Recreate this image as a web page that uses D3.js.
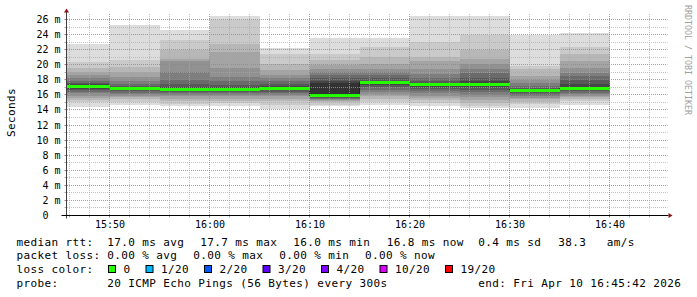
<!DOCTYPE html>
<html>
<head>
<meta charset="utf-8">
<script src="https://cdn.jsdelivr.net/npm/d3@7"></script>
<style>
  body { margin: 0; background: #fff; }
  svg { display: block; font-family: "DejaVu Sans Mono", monospace; }
  text { white-space: pre; }
</style>
</head>
<body>
<div id="chart"></div>
<script>
// step end times (5 minute steps), 20 sorted ping rtts per step (ms), median per step (ms)
const stepEnds = ['15:50', '15:55', '16:00', '16:05', '16:10', '16:15', '16:20', '16:25', '16:30', '16:35', '16:40'];
const pings = [
  [14.4, 15.0, 15.3, 15.6, 15.9, 16.2, 16.4, 16.6, 16.8, 17.0, 17.2, 17.4, 17.6, 17.9, 18.3, 18.7, 19.1, 19.6, 20.3, 22.8],
  [14.6, 15.0, 15.4, 15.7, 15.9, 16.1, 16.3, 16.5, 16.7, 16.8, 16.9, 17.0, 17.2, 17.5, 17.9, 18.4, 19.0, 19.7, 20.6, 25.3],
  [14.5, 14.8, 15.2, 15.5, 15.8, 16.0, 16.2, 16.4, 16.6, 16.7, 16.8, 17.0, 17.4, 18.0, 19.1, 20.5, 20.8, 22.0, 23.3, 24.6],
  [14.5, 14.9, 15.2, 15.5, 15.8, 16.0, 16.2, 16.4, 16.5, 16.6, 16.8, 17.0, 17.3, 17.8, 18.4, 19.6, 21.7, 22.7, 26.0, 26.5],
  [14.1, 14.6, 15.2, 15.5, 15.8, 16.0, 16.2, 16.4, 16.6, 16.7, 17.0, 17.2, 17.5, 17.9, 18.3, 18.7, 19.3, 20.1, 21.4, 22.2],
  [14.5, 14.7, 15.0, 15.2, 15.3, 15.4, 15.5, 15.6, 15.8, 15.9, 17.6, 17.8, 18.3, 18.7, 19.1, 19.4, 20.0, 20.6, 21.4, 23.5],
  [14.6, 15.0, 15.4, 15.8, 16.1, 16.4, 16.7, 17.0, 17.3, 17.6, 17.8, 17.9, 18.2, 18.6, 19.0, 19.5, 20.1, 21.0, 22.4, 23.6],
  [14.5, 14.9, 15.3, 15.6, 15.9, 16.2, 16.5, 16.8, 17.0, 17.3, 17.45, 17.6, 17.9, 18.2, 18.8, 19.5, 20.5, 21.0, 23.0, 26.5],
  [14.2, 14.5, 14.9, 15.3, 15.7, 16.0, 16.4, 16.7, 17.0, 17.3, 17.4, 17.8, 18.3, 18.9, 19.4, 20.1, 20.8, 22.0, 23.9, 26.5],
  [14.3, 14.8, 15.1, 15.4, 15.6, 15.8, 16.0, 16.2, 16.4, 16.5, 16.6, 16.7, 16.9, 17.2, 17.6, 18.0, 18.5, 19.4, 19.8, 24.0],
  [14.7, 15.2, 15.5, 15.7, 15.9, 16.1, 16.3, 16.5, 16.6, 16.7, 16.9, 17.4, 18.0, 18.5, 18.9, 19.6, 20.5, 21.4, 22.4, 24.2]
];
const medians = [17.1, 16.85, 16.75, 16.7, 16.85, 15.95, 17.7, 17.4, 17.35, 16.55, 16.8];

const yTicks = [0, 2, 4, 6, 8, 10, 12, 14, 16, 18, 20, 22, 24, 26];
const rttStats = ['17.0 ms avg', '17.7 ms max', '16.0 ms min', '16.8 ms now', '0.4 ms sd', '38.3', 'am/s'];
const lossStats = ['0.00 % avg', '0.00 % max', '0.00 % min', '0.00 % now'];
const lossLabels = ['0', '1/20', '2/20', '3/20', '4/20', '10/20', '19/20'];
const lossColors = ['#26ff00', '#00b8ff', '#0059ff', '#5e00ff', '#7e00ff', '#dd00ff', '#ff0000'];
const probeText = '20 ICMP Echo Pings (56 Bytes) every 300s';
const endText = 'end: Fri Apr 10 16:45:42 2026';

const W = 697, H = 297;
const t = s => { const p = s.split(':').map(Number); return new Date(Date.UTC(2026, 3, 10, p[0], p[1], p[2] || 0)); };
const snap = v => Math.round(v - 0.5) + 0.5;

const svg = d3.select('#chart').append('svg')
  .attr('width', W)
  .attr('height', H)
  .style('background', '#fff');

const x = d3.scaleUtc().domain([t('15:45:42'), t('16:45:42')]).range([66.5, 666.5]);
const y = d3.scaleLinear().domain([0, 26]).range([215.5, 19.5]);
const pTop = 13.5, pBottom = 215.5, pLeft = 66.5, pRight = 666.5;

// smoke: layer k spans ping k .. ping (21-k), lighter outside
const half = 10;
const grey = k => { const c = Math.floor(190 / half * (half - (k + 1))) + 50; return d3.rgb(c, c, c).toString(); };

const steps = stepEnds.map((s, i) => {
  const end = t(s);
  const start = new Date(Math.max(+end - 300000, +x.domain()[0]));
  return { x0: x(start), x1: x(end), p: pings[i], m: medians[i] };
});

const smoke = svg.append('g').attr('shape-rendering', 'crispEdges');
steps.forEach(st => {
  for (let k = 0; k < half; k++) {
    smoke.append('rect')
      .attr('x', st.x0)
      .attr('width', st.x1 - st.x0)
      .attr('y', y(st.p[19 - k]))
      .attr('height', y(st.p[k]) - y(st.p[19 - k]))
      .attr('fill', grey(k));
  }
});

// median step line
const pts = [];
steps.forEach(st => { pts.push([snap(st.x0), snap(y(st.m))], [snap(st.x1), snap(y(st.m))]); });
svg.append('path')
  .attr('d', d3.line()(pts))
  .attr('fill', 'none')
  .attr('stroke', '#202020')
  .attr('stroke-width', 1);

svg.selectAll('.med')
  .data(steps)
  .enter()
  .append('rect')
  .attr('x', d => d.x0)
  .attr('width', d => d.x1 - d.x0)
  .attr('y', d => Math.round(y(d.m) - 1.5))
  .attr('height', 3)
  .attr('shape-rendering', 'crispEdges')
  .attr('fill', lossColors[0]);

// grid (rrdtool style dotted lines, drawn over the smoke)
const minorCol = '#a8a8a8';
const majorCol = '#e06464';
const grid = svg.append('g');
d3.range(1, 27).forEach(v => {
  grid.append('line')
    .attr('x1', pLeft + 0.5).attr('x2', pRight + 1)
    .attr('y1', snap(y(v))).attr('y2', snap(y(v)))
    .style('stroke', v % 2 ? minorCol : majorCol)
    .style('stroke-width', 1)
    .style('stroke-opacity', v % 2 ? 0.7 : 0.8)
    .style('stroke-dasharray', '1,1');
});
const minorT = x.ticks(d3.utcMinute.every(2));
minorT.forEach(d => {
  const major = d.getUTCMinutes() % 10 === 0;
  grid.append('line')
    .attr('x1', snap(x(d))).attr('x2', snap(x(d)))
    .attr('y1', pBottom - 0.5).attr('y2', pTop)
    .style('stroke', major ? majorCol : minorCol)
    .style('stroke-width', 1)
    .style('stroke-opacity', major ? 0.8 : 0.7)
    .style('stroke-dasharray', '1,1');
});

// small axis ticks
const ticks = svg.append('g').style('stroke-width', 1);
d3.range(1, 27).forEach(v => {
  ticks.append('line').attr('x1', pLeft - 2).attr('x2', pLeft).attr('y1', snap(y(v))).attr('y2', snap(y(v)))
    .style('stroke', v % 2 ? minorCol : majorCol);
});
minorT.forEach(d => {
  ticks.append('line').attr('x1', snap(x(d))).attr('x2', snap(x(d))).attr('y1', pBottom).attr('y2', pBottom + 2)
    .style('stroke', d.getUTCMinutes() % 10 === 0 ? majorCol : minorCol);
});

// axes
svg.append('line')
  .attr('x1', pLeft).attr('x2', pLeft).attr('y1', pBottom + 3).attr('y2', pTop - 2)
  .attr('stroke', '#404040');
svg.append('path')
  .attr('d', `M${pLeft - 2.5},${pTop - 1}L${pLeft + 2.5},${pTop - 1}L${pLeft},${pTop - 5}Z`)
  .attr('fill', '#901010');
svg.append('line')
  .attr('x1', pLeft - 5).attr('x2', pRight + 2).attr('y1', pBottom).attr('y2', pBottom)
  .attr('stroke', '#000');
svg.append('path')
  .attr('d', `M${pRight + 2},${pBottom - 2.5}L${pRight + 2},${pBottom + 2.5}L${pRight + 6},${pBottom}Z`)
  .attr('fill', '#901010');

// y labels
svg.selectAll('.ylab')
  .data(yTicks)
  .enter()
  .append('text')
  .attr('x', 60.5)
  .attr('y', d => y(d) + 3.5)
  .attr('text-anchor', 'end')
  .style('font-size', '10px')
  .attr('fill', '#000')
  .text(d => d === 0 ? '0  ' : d + ' m');

// x labels
const fmt = d3.utcFormat('%H:%M');
svg.selectAll('.xlab')
  .data(x.ticks(d3.utcMinute.every(10)))
  .enter()
  .append('text')
  .attr('x', d => x(d) + 0.5)
  .attr('y', 228)
  .attr('text-anchor', 'middle')
  .style('font-size', '10px')
  .text(d => fmt(d));

// axis title and watermark
svg.append('text')
  .attr('transform', 'translate(14.5,112.5) rotate(-90)')
  .attr('text-anchor', 'middle')
  .style('font-size', '11px')
  .style('letter-spacing', '0.38px')
  .text('Seconds');

svg.append('text')
  .attr('transform', 'translate(684.5,5) rotate(90)')
  .style('font-size', '8.3px')
  .attr('fill', '#a0a0a0')
  .text('RRDTOOL / TOBI OETIKER');

// legend
const leg = svg.append('g').style('font-size', '11px').style('letter-spacing', '0.38px');
const put = (tx, xx, yy) => leg.append('text').attr('x', xx).attr('y', yy).text(tx);
const base = [245.5, 259.2, 272.9, 286.6];

put('median rtt:', 16.5, base[0]);
[107.3, 200.3, 293.3, 386.7, 478.3, 558.3, 606.7].forEach((xx, i) => put(rttStats[i], xx, base[0]));

put('packet loss:', 16.5, base[1]);
[107.3, 193.3, 279.3, 365].forEach((xx, i) => put(lossStats[i], xx, base[1]));

put('loss color:', 16.5, base[2]);
let bx = 108.5;
lossLabels.forEach((lab, i) => {
  leg.append('rect')
    .attr('x', bx).attr('y', 265.5).attr('width', 7).attr('height', 7)
    .attr('fill', lossColors[i]).attr('stroke', '#000').attr('stroke-width', 1);
  put(lab, bx + 15, base[2]);
  bx = bx + 15 + lab.length * 7 + 15.5;
});

put('probe:', 16.5, base[3]);
put(probeText, 107.3, base[3]);
put(endText, 478.3, base[3]);
</script>
</body>
</html>
